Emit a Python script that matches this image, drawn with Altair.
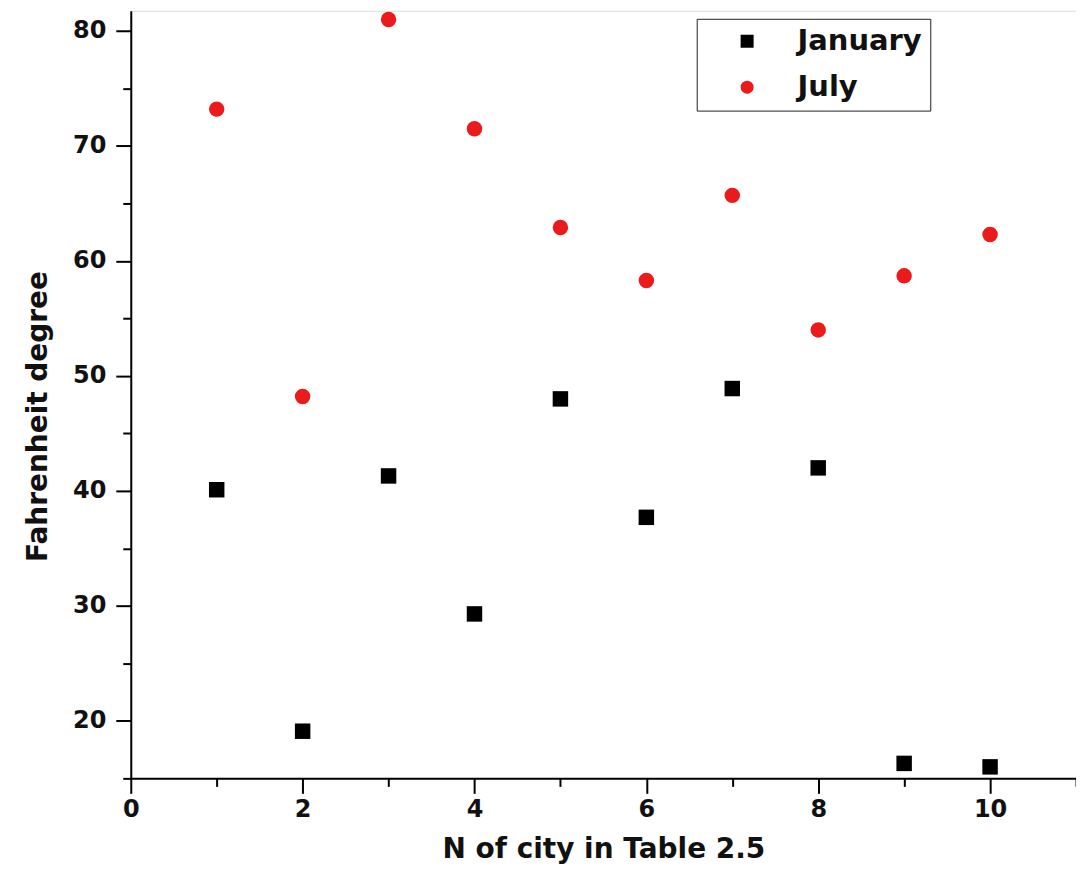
import altair as alt
import pandas as pd

cities = [1, 2, 3, 4, 5, 6, 7, 8, 9, 10]
january = [40.1, 19.1, 41.3, 29.3, 48.0, 37.7, 48.9, 42.0, 16.3, 16.0]
july = [73.2, 48.2, 81.0, 71.5, 62.9, 58.3, 65.7, 54.0, 58.7, 62.3]
series = ["January", "July"]
colors = ["#000000", "#ec1b1b"]
shapes = ["square", "circle"]

x_ticks = list(range(0, 12))
y_ticks = list(range(15, 85, 5))

df = pd.DataFrame({
    "city": cities * 2,
    "temp": january + july,
    "month": [series[0]] * len(cities) + [series[1]] * len(cities),
})

FONT = "DejaVu Sans"

common_axis = dict(
    grid=False,
    domainColor="black",
    domainWidth=2,
    tickColor="black",
    tickWidth=2,
    labelFont=FONT,
    labelFontWeight="bold",
    labelFontSize=24,
    labelColor="#111111",
    titleFont=FONT,
    titleFontWeight="bold",
    titleFontSize=28,
    titleColor="#111111",
    labelOverlap=False,
    labelFlush=False,
)

legend = alt.Legend(
    title=None,
    orient="none",
    legendX=567,
    legendY=8,
    direction="vertical",
    strokeColor="#222222",
    fillColor="white",
    padding=8,
    labelFont=FONT,
    labelFontWeight="bold",
    labelFontSize=29,
    labelColor="#111111",
    symbolSize=170,
    symbolOpacity=1,
    rowPadding=16,
    labelOffset=36,
    symbolOffset=28,
)

chart = alt.Chart(df).mark_point(filled=True, size=240, opacity=1).encode(
    x=alt.X(
        "city:Q",
        scale=alt.Scale(domain=[0, 11], nice=False, zero=False),
        axis=alt.Axis(
            values=x_ticks,
            title="N of city in Table 2.5",
            labelExpr="datum.value % 2 == 0 ? datum.label : ''",
            tickSize={"condition": {"test": "datum.value % 2 == 1", "value": 8}, "value": 15},
            labelPadding=4,
            titlePadding=14,
            **common_axis,
        ),
    ),
    y=alt.Y(
        "temp:Q",
        scale=alt.Scale(domain=[15, 81.75], nice=False, zero=False),
        axis=alt.Axis(
            values=y_ticks,
            title="Fahrenheit degree",
            labelExpr="datum.value % 10 == 0 ? datum.label : ''",
            tickSize={"condition": {"test": "datum.value % 10 != 0", "value": 8}, "value": 15},
            labelPadding=10,
            titlePadding=20,
            titleY=406,
            **common_axis,
        ),
    ),
    color=alt.Color("month:N", scale=alt.Scale(domain=series, range=colors), legend=legend),
    shape=alt.Shape("month:N", scale=alt.Scale(domain=series, range=shapes), legend=legend),
).properties(
    width=947,
    height=769,
    autosize=alt.AutoSizeParams(type="none"),
    padding={"left": 123, "top": 2, "right": 0, "bottom": 86},
).configure_view(strokeWidth=0).configure(background="white")

chart.save("out.html", embed_options={"renderer": "svg", "actions": False})
